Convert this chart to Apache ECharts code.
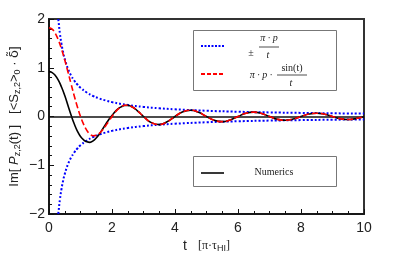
<!DOCTYPE html>
<html>
<head>
<meta charset="utf-8">
<script src="https://cdn.jsdelivr.net/npm/echarts@6/dist/echarts.min.js"></script>
<style>html,body{margin:0;padding:0;background:#fff}#c{width:415px;height:259px}</style>
</head>
<body>
<div id="c"></div>
<script>
// ---- data ----
const tRed = [0,0.1,0.2,0.3,0.4,0.5,0.6,0.7,0.8,0.9,1.0,1.1,1.2,1.3,1.4,1.5,1.6,1.7,1.8,1.9,2.0,2.1,2.2,2.3,2.4,2.5,2.6,2.7,2.8,2.9,3.0,
  3.25,3.5,3.75,4.0,4.25,4.5,4.75,5.0,5.25,5.5,5.75,6.0,6.25,6.5,6.75,7.0,7.25,7.5,7.75,8.0,8.25,8.5,8.75,9.0,9.25,9.5,9.75,10.0];
const redVals = [1.822,1.792,1.705,1.564,1.379,1.16,0.919,0.670,0.426,0.199,0,-0.163,-0.284,-0.361,-0.394,-0.387,-0.345,-0.276,-0.189,-0.094,0,0.085,0.155,0.204,0.230,0.232,0.212,0.174,0.122,0.062,0,
  -0.126,-0.166,-0.109,0,0.097,0.129,0.086,0,-0.078,-0.106,-0.071,0,0.066,0.089,0.061,0,-0.057,-0.077,-0.053,0,0.050,0.068,0.047,0,-0.044,-0.061,-0.042,0];
const tBlack = tRed;
const blackVals = [0.92,0.90,0.84,0.74,0.60,0.43,0.23,0.03,-0.15,-0.30,-0.41,-0.48,-0.52,-0.53,-0.50,-0.44,-0.36,-0.26,-0.16,-0.06,0.02,0.10,0.16,0.20,0.225,0.228,0.21,0.174,0.122,0.062,0,
  -0.126,-0.166,-0.109,0,0.097,0.129,0.086,0,-0.078,-0.106,-0.071,0,0.066,0.089,0.061,0,-0.057,-0.077,-0.053,0,0.050,0.068,0.047,0,-0.044,-0.061,-0.042,0];
const tBlue = [0.295,0.3,0.35,0.4,0.45,0.5,0.6,0.7,0.8,0.9,1.0,1.2,1.4,1.6,1.8,2.0,2.5,3.0,3.5,4.0,5,6,7,8,9,10];
const blueUpper = [2.0,1.967,1.686,1.475,1.311,1.18,0.983,0.843,0.738,0.656,0.59,0.492,0.421,0.369,0.328,0.295,0.236,0.197,0.169,0.148,0.118,0.098,0.084,0.074,0.066,0.059];
const blueLower = [-2.0,-1.967,-1.686,-1.475,-1.311,-1.18,-0.983,-0.843,-0.738,-0.656,-0.59,-0.492,-0.421,-0.369,-0.328,-0.295,-0.236,-0.197,-0.169,-0.148,-0.118,-0.098,-0.084,-0.074,-0.066,-0.059];
const xTicks = [0,2,4,6,8,10];
const yTicks = [-2,-1,0,1,2];

const zip = (a,b) => a.map((v,i)=>[v,b[i]]);
const chart = echarts.init(document.getElementById('c'));
const serif = '"Liberation Serif","DejaVu Serif",serif';
const sans = '"Liberation Sans",Arial,sans-serif';

chart.setOption({
  animation:false,
  grid:{left:49,top:19,right:51,bottom:45,containLabel:false,outerBoundsMode:'none',show:true,borderColor:'#333',borderWidth:2,backgroundColor:'transparent'},
  xAxis:{type:'value',min:xTicks[0],max:xTicks[xTicks.length-1],interval:2,
    axisLine:{onZero:false,lineStyle:{color:'#111',width:1.5}},
    axisTick:{inside:true,length:5,lineStyle:{color:'#111'}},
    minorTick:{show:true,splitNumber:4,length:3,lineStyle:{color:'#111'}},
    splitLine:{show:false},
    axisLabel:{fontSize:14,color:'#222',fontFamily:sans,margin:7},
    name:'{t|t}{g|    }{b|[π·τ}{s|HI}{b|]}',nameLocation:'middle',nameGap:25,nameMoveOverlap:false,
    nameTextStyle:{rich:{
      t:{fontSize:14,fontFamily:sans,color:'#222'},
      g:{fontSize:10},
      b:{fontSize:12,fontFamily:serif,color:'#222'},
      s:{fontSize:9,fontFamily:sans,color:'#222',padding:[5,0,0,0]}}}
  },
  yAxis:{type:'value',min:yTicks[0],max:yTicks[yTicks.length-1],interval:1,
    axisLine:{onZero:false,lineStyle:{color:'#111',width:1.5}},
    axisTick:{inside:true,length:5,lineStyle:{color:'#111'}},
    minorTick:{show:true,splitNumber:5,length:3,lineStyle:{color:'#111'}},
    splitLine:{show:false},
    axisLabel:{fontSize:14,color:'#222',fontFamily:sans,margin:4,formatter:v=>String(v).replace('-','\u2212')},
    name:'{n|Im[ }{i|P}{s|z,2}{n|(t) ]   [<S}{s|z,2}{n|>}{s|0}{n| · }{d|δ̃}{n|]}',
    nameLocation:'middle',nameGap:27,nameRotate:90,nameMoveOverlap:false,
    nameTextStyle:{rich:{
      n:{fontSize:13,fontFamily:sans,color:'#222'},
      d:{fontSize:13,fontFamily:'"DejaVu Sans",sans-serif',color:'#222'},
      i:{fontSize:13,fontFamily:sans,fontStyle:'italic',color:'#222'},
      s:{fontSize:9,fontFamily:sans,color:'#222',padding:[6,0,0,0]}}}
  },
  series:[
    {type:'line',data:zip(tBlue,blueUpper),smooth:true,symbol:'none',lineStyle:{color:'#0000ff',width:2,type:[2,2]},z:3},
    {type:'line',data:zip(tBlue,blueLower),smooth:true,symbol:'none',lineStyle:{color:'#0000ff',width:2,type:[2,2]},z:3},
    {type:'line',data:zip(tBlack,blackVals),smooth:true,symbol:'none',lineStyle:{color:'#000',width:1.6},z:4,
      markLine:{silent:true,symbol:'none',label:{show:false},lineStyle:{color:'#111',width:1.5,type:'solid'},data:[{yAxis:0}]}},
    {type:'line',data:zip(tRed,redVals),smooth:true,symbol:'none',lineStyle:{color:'#ff0000',width:1.6,type:[6,3]},z:5}
  ],
  graphic:[
    {type:'rect',shape:{x:193.5,y:30.5,width:143,height:60},style:{fill:'#fff',stroke:'#777',lineWidth:1},z:10},
    {type:'line',shape:{x1:201,y1:46,x2:225,y2:46},style:{stroke:'#0000ff',lineWidth:2,lineDash:[2,1.5]},z:11},
    {type:'text',style:{text:'±',x:251,y:53,font:'10px '+serif,fill:'#222',align:'center',verticalAlign:'middle'},z:11},
    {type:'text',style:{text:'π · p',x:269,y:38,font:'italic 10px '+serif,fill:'#222',align:'center',verticalAlign:'middle'},z:11},
    {type:'line',shape:{x1:259,y1:47,x2:279,y2:47},style:{stroke:'#222',lineWidth:0.8},z:11},
    {type:'text',style:{text:'t',x:268,y:55,font:'italic 10px '+serif,fill:'#222',align:'center',verticalAlign:'middle'},z:11},
    {type:'line',shape:{x1:201,y1:74,x2:225,y2:74},style:{stroke:'#ff0000',lineWidth:2,lineDash:[4,2]},z:11},
    {type:'text',style:{text:'π · p ·',x:261,y:75,font:'italic 10px '+serif,fill:'#222',align:'center',verticalAlign:'middle'},z:11},
    {type:'text',style:{text:'sin(t)',x:292,y:68,font:'10px '+serif,fill:'#222',align:'center',verticalAlign:'middle'},z:11},
    {type:'line',shape:{x1:277,y1:75,x2:307,y2:75},style:{stroke:'#222',lineWidth:0.8},z:11},
    {type:'text',style:{text:'t',x:291,y:83,font:'italic 10px '+serif,fill:'#222',align:'center',verticalAlign:'middle'},z:11},
    {type:'rect',shape:{x:193.5,y:156.5,width:143,height:30},style:{fill:'#fff',stroke:'#777',lineWidth:1},z:10},
    {type:'line',shape:{x1:201,y1:173,x2:224,y2:173},style:{stroke:'#222',lineWidth:1.8},z:11},
    {type:'text',style:{text:'Numerics',x:274,y:172,font:'10px '+serif,fill:'#222',align:'center',verticalAlign:'middle'},z:11}
  ]
});
</script>
</body>
</html>
